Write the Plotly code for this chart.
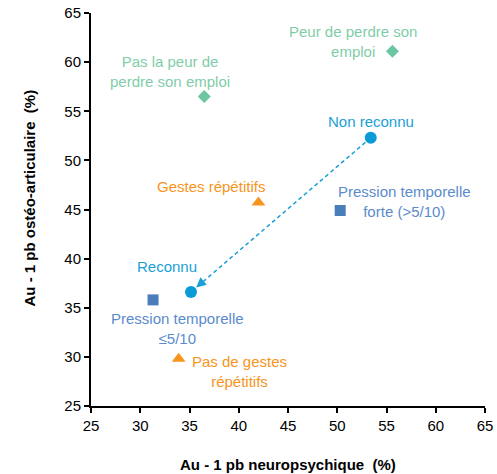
import plotly.graph_objects as go

# Data (x = % with >=1 neuropsychological problem, y = % with >=1 osteo-articular problem)
labels = ["Pas la peur de<br>perdre son emploi", "Peur de perdre son<br>emploi",
          "Non reconnu", "Reconnu",
          "Gestes répétitifs", "Pas de gestes<br>répétitifs",
          "Pression temporelle<br>forte (>5/10)", "Pression temporelle<br>≤5/10"]
groups = ["emploi", "emploi", "reconnu", "reconnu", "gestes", "gestes", "pression", "pression"]
x_vals = [36.5, 55.6, 53.4, 35.15, 42.0, 33.9, 50.3, 31.3]
y_vals = [56.5, 61.1, 52.3, 36.6, 45.7, 29.8, 44.9, 35.8]

x_ticks = [25, 30, 35, 40, 45, 50, 55, 60, 65]
y_ticks = [25, 30, 35, 40, 45, 50, 55, 60, 65]
x_title = "Au - 1 pb neuropsychique  (%)"
y_title = "Au - 1 pb ostéo-articulaire  (%)"

styles = {
    "emploi": dict(color="#6cc6a1", text="#7fcda9", symbol="diamond", size=10),
    "reconnu": dict(color="#0a9ad6", text="#1a9fd6", symbol="circle", size=12),
    "gestes": dict(color="#f7941d", text="#f7941d", symbol="triangle-up", size=12),
    "pression": dict(color="#4a7ebb", text="#5b8bcc", symbol="square", size=11),
}
# label offsets in pixels (xshift, yshift)
offsets = [(-34, 25), (-39, 10), (0, 16), (-24, 26), (-47, 16), (61, -13), (64, 9), (24, -29)]

FONT = "Liberation Sans, Arial"
fig = go.Figure()

# dashed arrow line Non reconnu -> Reconnu
i_nr, i_r = 2, 3
fig.add_trace(go.Scatter(x=[x_vals[i_nr], x_vals[i_r]], y=[y_vals[i_nr], y_vals[i_r]],
                         mode="lines", line=dict(color="#1a9fd6", width=1.5, dash="4px,3px"),
                         hoverinfo="skip", showlegend=False))
fig.add_annotation(x=x_vals[i_r], y=y_vals[i_r], ax=12, ay=-10.5, xref="x", yref="y",
                   showarrow=True, arrowhead=2, arrowsize=1.3, arrowwidth=1.5,
                   arrowcolor="#1a9fd6", standoff=7, text="")

for g in ["emploi", "reconnu", "gestes", "pression"]:
    idx = [i for i, gg in enumerate(groups) if gg == g]
    s = styles[g]
    fig.add_trace(go.Scatter(x=[x_vals[i] for i in idx], y=[y_vals[i] for i in idx],
                             mode="markers",
                             marker=dict(symbol=s["symbol"], size=s["size"], color=s["color"]),
                             showlegend=False))

for i, lab in enumerate(labels):
    s = styles[groups[i]]
    dx, dy = offsets[i]
    fig.add_annotation(x=x_vals[i], y=y_vals[i], text=lab, showarrow=False,
                       xshift=dx, yshift=dy, xanchor="center", yanchor="middle",
                       align="center", font=dict(size=15, color=s["text"], family=FONT))

# axis titles
fig.add_annotation(x=0.5, y=0, xref="paper", yref="paper", yshift=-58, yanchor="middle",
                   text="<b>" + x_title.replace("  ", "&nbsp; ") + "</b>", showarrow=False,
                   font=dict(size=15, color="black", family=FONT))
fig.add_annotation(x=0, y=0.5, xref="paper", yref="paper", xshift=-62, yshift=11,
                   xanchor="center", textangle=-90,
                   text="<b>" + y_title.replace("  ", "&nbsp; ") + "</b>", showarrow=False,
                   font=dict(size=15, color="black", family=FONT))

fig.update_layout(
    width=497, height=474,
    margin=dict(l=91, r=12, t=13, b=68, autoexpand=False),
    plot_bgcolor="white", paper_bgcolor="white",
    font=dict(family=FONT, size=15, color="black"),
    xaxis=dict(range=[25, 65], tickvals=x_ticks, showgrid=False, zeroline=False,
               showline=True, linecolor="black", linewidth=2, ticks="outside",
               ticklen=5, tickwidth=1.5, tickcolor="black", automargin=False,
               tickfont=dict(size=15)),
    yaxis=dict(range=[25, 65], tickvals=y_ticks, showgrid=False, zeroline=False,
               showline=True, linecolor="black", linewidth=2, ticks="outside",
               ticklen=5, tickwidth=1.5, tickcolor="black", automargin=False,
               tickfont=dict(size=15)),
)

# remove the default page margin so the figure sits at the window's top-left corner
fig.write_html("out.html", config={"displayModeBar": False},
               post_script="document.body.style.margin='0';document.body.style.overflow='hidden';")
